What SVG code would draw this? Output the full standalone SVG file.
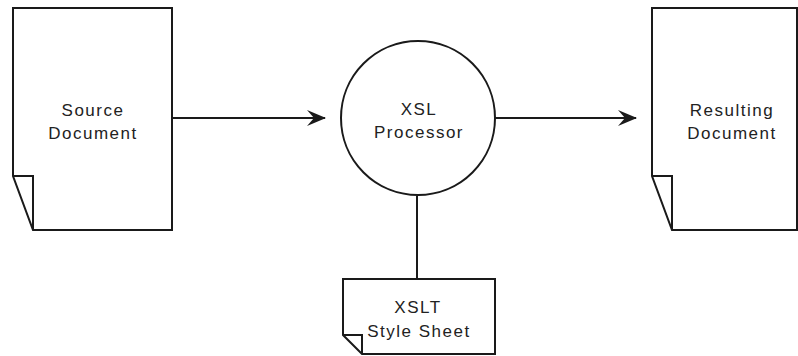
<svg xmlns="http://www.w3.org/2000/svg" width="798" height="356" viewBox="0 0 798 356">
  <style>
    .shape { fill: #ffffff; stroke: #1a1a1a; stroke-width: 2; stroke-linejoin: miter; }
    .fold { fill: none; stroke: #1a1a1a; stroke-width: 2; }
    .label { font-family: "Liberation Sans", Arial, sans-serif; font-size: 17px; letter-spacing: 1.5px; fill: #222222; text-anchor: middle; }
    .wire { fill: none; stroke: #1a1a1a; stroke-width: 2; }
  </style>
  <defs>
    <marker id="head" viewBox="0 0 20 16" refX="18" refY="8" markerWidth="20" markerHeight="16" markerUnits="userSpaceOnUse" orient="auto">
      <path d="M0,0 L19,8 L0,16 L7,8 Z" fill="#1a1a1a"/>
    </marker>
  </defs>
  <rect width="798" height="356" fill="#ffffff"/>

  <!-- connectors -->
  <g id="connectors">
    <line class="wire" x1="173" y1="118" x2="325" y2="118" marker-end="url(#head)"/>
    <line class="wire" x1="495" y1="118" x2="636" y2="118" marker-end="url(#head)"/>
    <line class="wire" x1="417" y1="196" x2="417" y2="279"/>
  </g>

  <!-- source document -->
  <g id="source-document">
    <path class="shape" d="M13,8 H172 V230 H33 L13,176 Z"/>
    <path class="fold" d="M13,176 H33 V230"/>
    <text class="label" x="93" y="116">Source</text>
    <text class="label" x="93" y="139">Document</text>
  </g>

  <!-- XSL processor -->
  <g id="xsl-processor">
    <circle class="shape" cx="418" cy="118" r="77"/>
    <text class="label" x="419" y="115">XSL</text>
    <text class="label" x="419" y="138">Processor</text>
  </g>

  <!-- resulting document -->
  <g id="resulting-document">
    <path class="shape" d="M652,8 H797 V230 H672 L652,176 Z"/>
    <path class="fold" d="M652,176 H672 V230"/>
    <text class="label" x="732" y="116">Resulting</text>
    <text class="label" x="732" y="139">Document</text>
  </g>

  <!-- XSLT style sheet -->
  <g id="xslt-style-sheet">
    <path class="shape" d="M343,279 H495 V354 H362 L343,335 Z"/>
    <path class="fold" d="M343,335 H362 V354"/>
    <text class="label" x="418" y="313">XSLT</text>
    <text class="label" x="419" y="337">Style Sheet</text>
  </g>
</svg>
